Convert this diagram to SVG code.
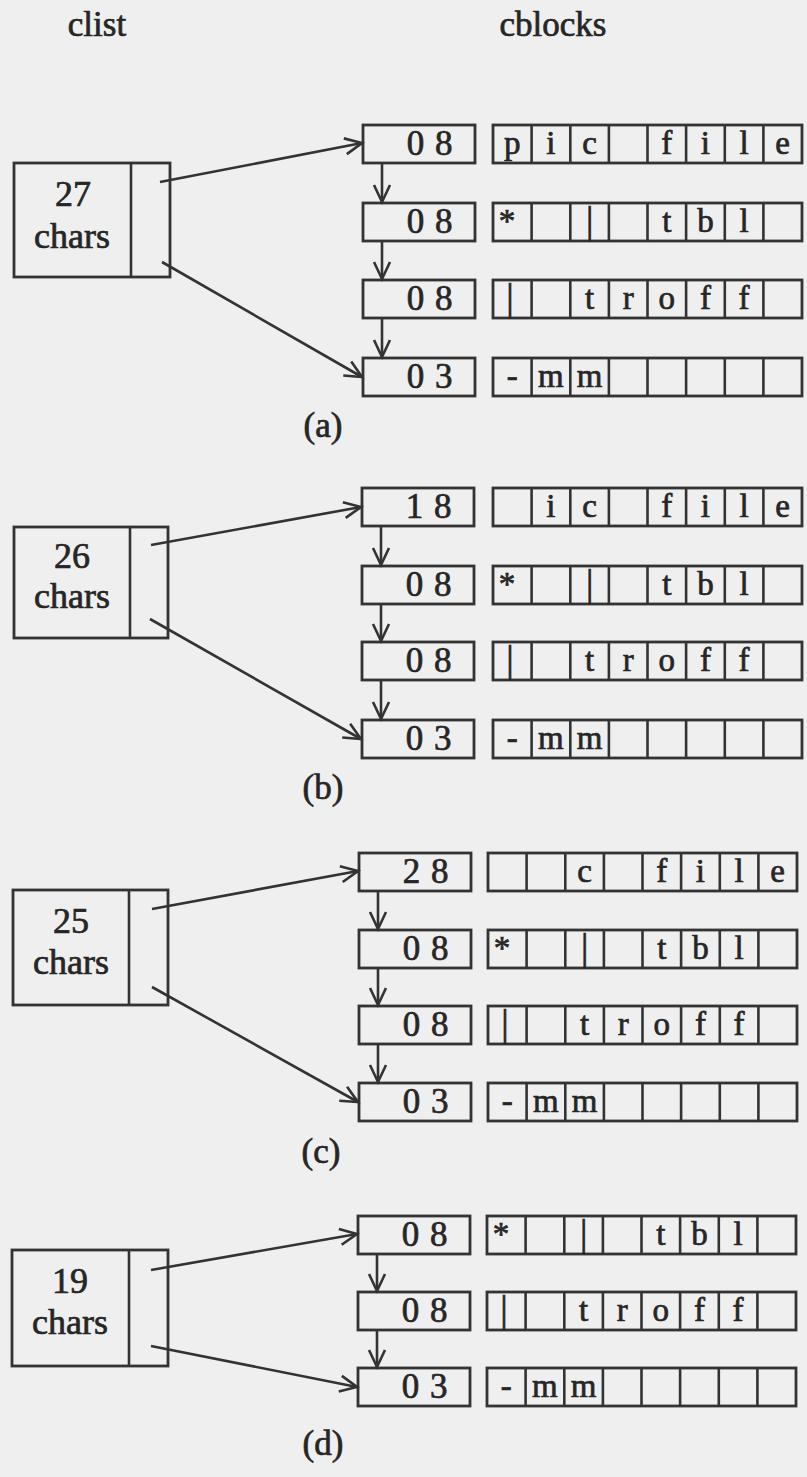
<svg xmlns="http://www.w3.org/2000/svg" xmlns:xlink="http://www.w3.org/1999/xlink" width="807" height="1477" viewBox="0 0 807 1477">
<style>
.bg{fill:#efefef}
.box{fill:none;stroke:#333;stroke-width:2.8}
.ln{stroke:#333;stroke-width:2.6}
.con{fill:none;stroke:#333;stroke-width:2.6;marker-end:url(#ah)}
text{font-family:"Liberation Serif","Times New Roman",serif;fill:#262626;stroke:#262626;stroke-width:0.7}
.lbl{font-size:35px;text-anchor:middle}
.cnt{font-size:35px;text-anchor:middle;letter-spacing:1px}
.ch{font-size:33px;text-anchor:middle}
.bar{font-size:37px;text-anchor:middle}
.num{font-size:36px;text-anchor:middle}
</style>
<defs>
<marker id="ah" markerUnits="userSpaceOnUse" markerWidth="22" markerHeight="18" refX="17" refY="8" orient="auto" overflow="visible">
<path d="M0,0 L17,8 L0,16" fill="none" stroke="#333" stroke-width="2.6"/>
</marker>
<g id="grid">
<rect class="box" x="0" y="0" width="309" height="38"/>
<path class="ln" d="M38.6,0V38M77.3,0V38M115.9,0V38M154.5,0V38M193.1,0V38M231.8,0V38M270.4,0V38"/>
</g>
<rect id="ctr" class="box" x="0" y="0" width="112" height="38"/>
</defs>
<rect class="bg" x="0" y="0" width="807" height="1477"/>

<text class="lbl" x="97" y="36">clist</text>
<text class="lbl" x="553" y="36">cblocks</text>

<!-- (a) -->
<g id="a-clist">
<rect class="box" x="14" y="163" width="156" height="114"/>
<line class="ln" x1="131" y1="163" x2="131" y2="277"/>
<text class="num" x="73" y="206">27</text>
<text class="num" x="72" y="248">chars</text>
</g>
<g id="a-c1" transform="translate(363,125)"><use xlink:href="#ctr"/><text class="cnt" x="67" y="30">0 8</text></g>
<g id="a-c2" transform="translate(363,203)"><use xlink:href="#ctr"/><text class="cnt" x="67" y="30">0 8</text></g>
<g id="a-c3" transform="translate(363,280)"><use xlink:href="#ctr"/><text class="cnt" x="67" y="30">0 8</text></g>
<g id="a-c4" transform="translate(363,358)"><use xlink:href="#ctr"/><text class="cnt" x="67" y="30">0 3</text></g>
<g id="a-b1" transform="translate(493,125)"><use xlink:href="#grid"/>
<text class="ch" x="19.3" y="29">p</text><text class="ch" x="57.9" y="29">i</text><text class="ch" x="96.6" y="29">c</text><text class="ch" x="173.8" y="29">f</text><text class="ch" x="212.4" y="29">i</text><text class="ch" x="251.1" y="29">l</text><text class="ch" x="289.7" y="29">e</text></g>
<g id="a-b2" transform="translate(493,203)"><use xlink:href="#grid"/>
<text class="ch" x="14" y="29">*</text><text class="bar" x="96.6" y="30">|</text><text class="ch" x="173.8" y="29">t</text><text class="ch" x="212.4" y="29">b</text><text class="ch" x="251.1" y="29">l</text></g>
<g id="a-b3" transform="translate(493,280)"><use xlink:href="#grid"/>
<text class="bar" x="17" y="30">|</text><text class="ch" x="96.6" y="29">t</text><text class="ch" x="135.2" y="29">r</text><text class="ch" x="173.8" y="29">o</text><text class="ch" x="212.4" y="29">f</text><text class="ch" x="251.1" y="29">f</text></g>
<g id="a-b4" transform="translate(493,358)"><use xlink:href="#grid"/>
<text class="ch" x="19.3" y="29">-</text><text class="ch" x="57.9" y="29">m</text><text class="ch" x="96.6" y="29">m</text></g>
<text class="lbl" x="323" y="437">(a)</text>

<!-- (b) -->
<g id="b-clist">
<rect class="box" x="14" y="527" width="154" height="111"/>
<line class="ln" x1="130" y1="527" x2="130" y2="638"/>
<text class="num" x="72" y="568">26</text>
<text class="num" x="72" y="608">chars</text>
</g>
<g id="b-c1" transform="translate(362,488)"><use xlink:href="#ctr"/><text class="cnt" x="67" y="30">1 8</text></g>
<g id="b-c2" transform="translate(362,566)"><use xlink:href="#ctr"/><text class="cnt" x="67" y="30">0 8</text></g>
<g id="b-c3" transform="translate(362,642)"><use xlink:href="#ctr"/><text class="cnt" x="67" y="30">0 8</text></g>
<g id="b-c4" transform="translate(362,720)"><use xlink:href="#ctr"/><text class="cnt" x="67" y="30">0 3</text></g>
<g id="b-b1" transform="translate(493,488)"><use xlink:href="#grid"/>
<text class="ch" x="57.9" y="29">i</text><text class="ch" x="96.6" y="29">c</text><text class="ch" x="173.8" y="29">f</text><text class="ch" x="212.4" y="29">i</text><text class="ch" x="251.1" y="29">l</text><text class="ch" x="289.7" y="29">e</text></g>
<g id="b-b2" transform="translate(493,566)"><use xlink:href="#grid"/>
<text class="ch" x="14" y="29">*</text><text class="bar" x="96.6" y="30">|</text><text class="ch" x="173.8" y="29">t</text><text class="ch" x="212.4" y="29">b</text><text class="ch" x="251.1" y="29">l</text></g>
<g id="b-b3" transform="translate(493,642)"><use xlink:href="#grid"/>
<text class="bar" x="17" y="30">|</text><text class="ch" x="96.6" y="29">t</text><text class="ch" x="135.2" y="29">r</text><text class="ch" x="173.8" y="29">o</text><text class="ch" x="212.4" y="29">f</text><text class="ch" x="251.1" y="29">f</text></g>
<g id="b-b4" transform="translate(493,720)"><use xlink:href="#grid"/>
<text class="ch" x="19.3" y="29">-</text><text class="ch" x="57.9" y="29">m</text><text class="ch" x="96.6" y="29">m</text></g>
<text class="lbl" x="323" y="799">(b)</text>

<!-- (c) -->
<g id="c-clist">
<rect class="box" x="13" y="890" width="155" height="115"/>
<line class="ln" x1="129" y1="890" x2="129" y2="1005"/>
<text class="num" x="71" y="933">25</text>
<text class="num" x="71" y="974">chars</text>
</g>
<g id="c-c1" transform="translate(359,853)"><use xlink:href="#ctr"/><text class="cnt" x="67" y="30">2 8</text></g>
<g id="c-c2" transform="translate(359,930)"><use xlink:href="#ctr"/><text class="cnt" x="67" y="30">0 8</text></g>
<g id="c-c3" transform="translate(359,1006)"><use xlink:href="#ctr"/><text class="cnt" x="67" y="30">0 8</text></g>
<g id="c-c4" transform="translate(359,1083)"><use xlink:href="#ctr"/><text class="cnt" x="67" y="30">0 3</text></g>
<g id="c-b1" transform="translate(488,853)"><use xlink:href="#grid"/>
<text class="ch" x="96.6" y="29">c</text><text class="ch" x="173.8" y="29">f</text><text class="ch" x="212.4" y="29">i</text><text class="ch" x="251.1" y="29">l</text><text class="ch" x="289.7" y="29">e</text></g>
<g id="c-b2" transform="translate(488,930)"><use xlink:href="#grid"/>
<text class="ch" x="14" y="29">*</text><text class="bar" x="96.6" y="30">|</text><text class="ch" x="173.8" y="29">t</text><text class="ch" x="212.4" y="29">b</text><text class="ch" x="251.1" y="29">l</text></g>
<g id="c-b3" transform="translate(488,1006)"><use xlink:href="#grid"/>
<text class="bar" x="17" y="30">|</text><text class="ch" x="96.6" y="29">t</text><text class="ch" x="135.2" y="29">r</text><text class="ch" x="173.8" y="29">o</text><text class="ch" x="212.4" y="29">f</text><text class="ch" x="251.1" y="29">f</text></g>
<g id="c-b4" transform="translate(488,1083)"><use xlink:href="#grid"/>
<text class="ch" x="19.3" y="29">-</text><text class="ch" x="57.9" y="29">m</text><text class="ch" x="96.6" y="29">m</text></g>
<text class="lbl" x="321" y="1163">(c)</text>

<!-- (d) -->
<g id="d-clist">
<rect class="box" x="12" y="1250" width="156" height="116"/>
<line class="ln" x1="129" y1="1250" x2="129" y2="1366"/>
<text class="num" x="70" y="1293">19</text>
<text class="num" x="70" y="1334">chars</text>
</g>
<g id="d-c1" transform="translate(358,1216)"><use xlink:href="#ctr"/><text class="cnt" x="67" y="30">0 8</text></g>
<g id="d-c2" transform="translate(358,1292)"><use xlink:href="#ctr"/><text class="cnt" x="67" y="30">0 8</text></g>
<g id="d-c3" transform="translate(358,1368)"><use xlink:href="#ctr"/><text class="cnt" x="67" y="30">0 3</text></g>
<g id="d-b1" transform="translate(487,1216)"><use xlink:href="#grid"/>
<text class="ch" x="14" y="29">*</text><text class="bar" x="96.6" y="30">|</text><text class="ch" x="173.8" y="29">t</text><text class="ch" x="212.4" y="29">b</text><text class="ch" x="251.1" y="29">l</text></g>
<g id="d-b2" transform="translate(487,1292)"><use xlink:href="#grid"/>
<text class="bar" x="17" y="30">|</text><text class="ch" x="96.6" y="29">t</text><text class="ch" x="135.2" y="29">r</text><text class="ch" x="173.8" y="29">o</text><text class="ch" x="212.4" y="29">f</text><text class="ch" x="251.1" y="29">f</text></g>
<g id="d-b3" transform="translate(487,1368)"><use xlink:href="#grid"/>
<text class="ch" x="19.3" y="29">-</text><text class="ch" x="57.9" y="29">m</text><text class="ch" x="96.6" y="29">m</text></g>
<text class="lbl" x="323" y="1455">(d)</text>

<g id="connectors">
<line class="con" x1="160" y1="182" x2="362" y2="143"/>
<line class="con" x1="162" y1="262" x2="362" y2="377"/>
<line class="con" x1="382" y1="163" x2="382" y2="202"/>
<line class="con" x1="382" y1="241" x2="382" y2="279"/>
<line class="con" x1="382" y1="318" x2="382" y2="357"/>

<line class="con" x1="151" y1="545" x2="361" y2="507"/>
<line class="con" x1="150" y1="619" x2="361" y2="739"/>
<line class="con" x1="381" y1="526" x2="381" y2="565"/>
<line class="con" x1="381" y1="604" x2="381" y2="641"/>
<line class="con" x1="381" y1="680" x2="381" y2="719"/>

<line class="con" x1="152" y1="909" x2="358" y2="871"/>
<line class="con" x1="152" y1="987" x2="358" y2="1102"/>
<line class="con" x1="378" y1="891" x2="378" y2="929"/>
<line class="con" x1="378" y1="968" x2="378" y2="1005"/>
<line class="con" x1="378" y1="1044" x2="378" y2="1082"/>

<line class="con" x1="151" y1="1270" x2="357" y2="1234"/>
<line class="con" x1="151" y1="1346" x2="357" y2="1387"/>
<line class="con" x1="377" y1="1254" x2="377" y2="1291"/>
<line class="con" x1="377" y1="1330" x2="377" y2="1367"/>
</g>
</svg>
